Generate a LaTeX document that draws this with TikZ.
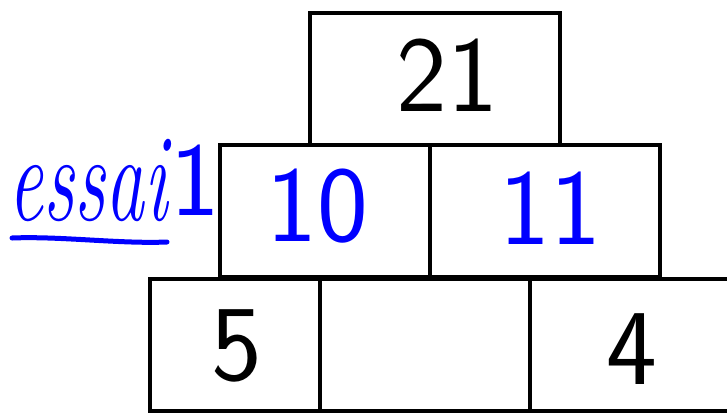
\documentclass[tikz,border=0pt]{standalone}
\usepackage{fontspec}
\usepackage{graphicx}
\definecolor{penblue}{RGB}{0,0,255}
\tikzset{
  cell/.style={draw=black, line width=4pt, inner sep=0pt, minimum height=132pt},
  digit/.style={inner sep=0pt, font=\sffamily\fontsize{108}{108}\selectfont},
  bluedigit/.style={digit, text=penblue},
  note/.style={inner sep=0pt, text=penblue}
}
\begin{document}
\begin{tikzpicture}[x=1pt,y=-1pt]
\useasboundingbox (0,0) rectangle (727,413);
% boxes
\node[cell, minimum width=250pt] (top) at (435,79) {};
\node[cell, minimum width=210pt] (ml) at (325,211) {};
\node[cell, minimum width=230pt] (mr) at (545,211) {};
\node[cell, minimum width=170pt] (bl) at (235,344.5) {};
\node[cell, minimum width=210pt] (bm) at (425,344.5) {};
\node[cell, minimum width=210pt] (br) at (635,344.5) {};
% numbers
\node[digit] (t21) at (447,75) {21};
\node[bluedigit] (t10) at (317,206) {10};
\node[bluedigit] (t11) at (550,208) {11};
\node[digit] (t5) at (237,346) {5};
\node[digit] (t4) at (632,349) {4};
% note
\node[note, font=\itshape\fontsize{125}{125}\selectfont] (essai) at (88,180) {\scalebox{0.62}[1]{essai}};
\node[note, font=\sffamily\fontsize{105}{105}\selectfont] (one) at (195,180) {1};
\coordinate (u1) at (12,238);
\coordinate (u2) at (167,242);
\draw[penblue, line width=5pt, line cap=round] (u1) .. controls (60,236) and (120,244) .. (u2);
\end{tikzpicture}
\end{document}
